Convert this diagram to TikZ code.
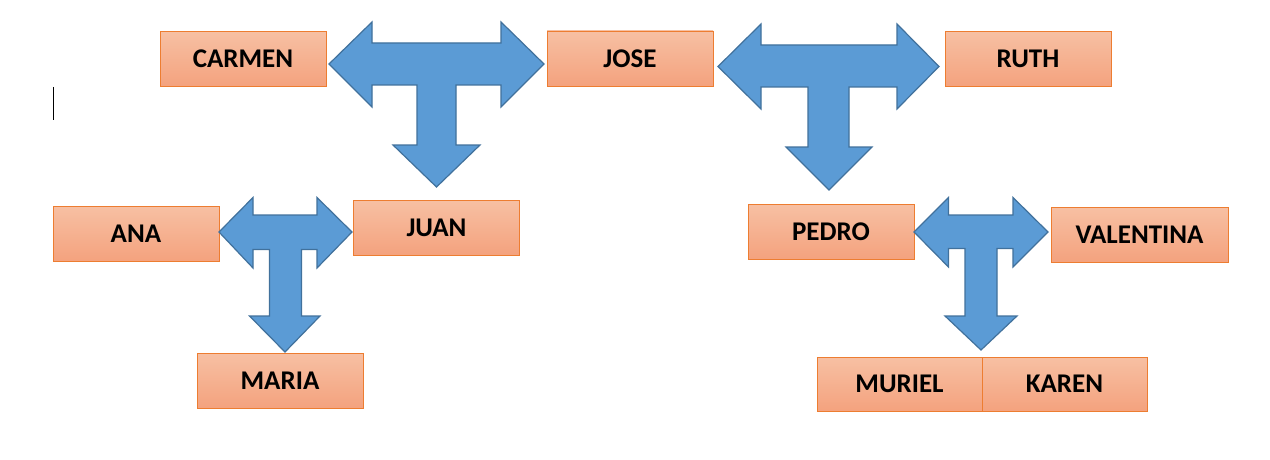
\documentclass[tikz,border=0pt]{standalone}
\usepackage{fontspec}
\setmainfont{Carlito}
\definecolor{boxtop}{HTML}{F7C0A3}
\definecolor{boxbot}{HTML}{F4A27E}
\definecolor{boxline}{HTML}{ED7D31}
\definecolor{arrfill}{HTML}{5B9BD5}
\definecolor{arrline}{HTML}{41719C}
\tikzset{
  namebox/.style={draw=boxline, line width=0.8pt, top color=boxtop, bottom color=boxbot,
    minimum width=166pt, minimum height=55pt, inner sep=0pt, outer sep=0pt,
    font=\fontsize{27}{30}\selectfont\bfseries, text=black},
  tshape/.style={fill=arrfill, draw=arrline, line width=1.2pt, line join=miter}
}
\begin{document}
\begin{tikzpicture}[x=1pt,y=-1pt]
\useasboundingbox (0,0) rectangle (1270,460);
\fill[white] (0,0) rectangle (1270,460);
% cursor mark
\draw[black, line width=1pt] (53,87) -- (53,120);
% boxes
\node[namebox] (carmen) at (243,59) {CARMEN};
\node[namebox] (jose) at (630,58.5) {JOSE};
\node[namebox] (ruth) at (1028,59) {RUTH};
\node[namebox] (ana) at (136,233.5) {ANA};
\node[namebox] (juan) at (436.5,227.5) {JUAN};
\node[namebox] (maria) at (280,380.5) {MARIA};
\node[namebox] (pedro) at (831,231.5) {PEDRO};
\node[namebox, minimum width=177pt] (valentina) at (1139.5,234.5) {VALENTINA};
\node[namebox, minimum width=165pt, minimum height=54pt] (muriel) at (899.5,384) {MURIEL};
\node[namebox, minimum width=165pt, minimum height=54pt] (karen) at (1064.5,384) {KAREN};
% T arrows
\draw[tshape] (329,64) -- (372,22) -- (372,43) -- (501,43) -- (501,22) -- (544,64) -- (501,107) -- (501,85) -- (456,85) -- (456,145) -- (480,145) -- (436.5,187) -- (393,145) -- (417,145) -- (417,85) -- (372,85) -- (372,107) -- cycle;
\draw[tshape] (718,66.5) -- (761,24) -- (761,45) -- (897,45) -- (897,24) -- (939,66.5) -- (897,109) -- (897,87) -- (849,87) -- (849,147) -- (872,147) -- (829,190) -- (786,147) -- (808,147) -- (808,87) -- (761,87) -- (761,109) -- cycle;
\draw[tshape] (219,232) -- (253,197.5) -- (253,215) -- (317,215) -- (317,197.5) -- (352,232) -- (317,268) -- (317,249.5) -- (301.5,249.5) -- (301.5,316) -- (320,316) -- (285,352) -- (249.5,316) -- (269.5,316) -- (269.5,249.5) -- (253,249.5) -- (253,268) -- cycle;
\draw[tshape] (914,232) -- (948.5,197.5) -- (948.5,215) -- (1013,215) -- (1013,197.5) -- (1048,232) -- (1013,267) -- (1013,248.5) -- (997,248.5) -- (997,316) -- (1017,316) -- (981,350) -- (945,316) -- (965,316) -- (965,248.5) -- (948.5,248.5) -- (948.5,267) -- cycle;
\end{tikzpicture}
\end{document}
